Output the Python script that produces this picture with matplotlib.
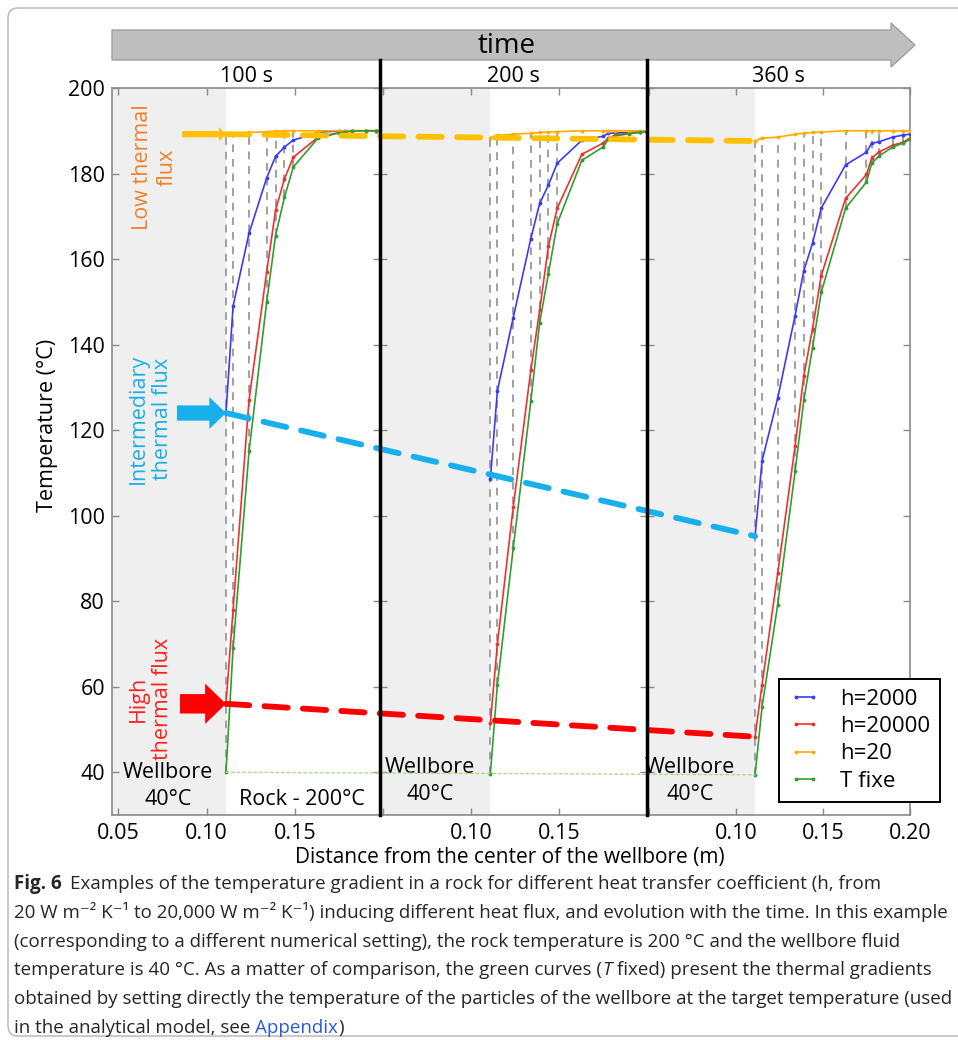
import matplotlib
matplotlib.use("Agg")
import matplotlib.pyplot as plt
from matplotlib import font_manager
from matplotlib.patches import ConnectionPatch, FancyArrow, FancyBboxPatch
from matplotlib.lines import Line2D

# particle positions (m) and temperatures (degC) for each snapshot
x_nodes = [0.111, 0.115, 0.124, 0.134, 0.139, 0.144, 0.149,
           0.163, 0.175, 0.178, 0.182, 0.190, 0.196, 0.200]
times = ["100 s", "200 s", "360 s"]
series_labels = ["h=2000", "h=20000", "h=20", "T fixe"]

t100_h2000 = [124, 149, 166, 179, 184, 186.2, 187.8, 189.6, 190, 190, 190, 190, 190, 190]
t100_h20000 = [56, 78, 127, 157, 171.4, 178.7, 183.8, 188.5, 189.6, 189.8, 190, 190, 190, 190]
t100_h20 = [189.2, 189.4, 189.6, 189.8, 189.9, 190, 190, 190, 190, 190, 190, 190, 190, 190]
t100_fixed = [40, 69, 115, 150, 165.5, 174.4, 181.5, 188.3, 189.5, 189.7, 189.9, 190, 190, 190]

t200_h2000 = [108.5, 129.2, 146.3, 164.8, 173, 177.3, 182.4, 187.8, 188.7, 189.4, 189.5, 189.6, 189.7, 189.8]
t200_h20000 = [51.5, 70, 102, 134, 148, 163, 171.9, 184.5, 187.1, 188.3, 189, 189.5, 189.7, 189.8]
t200_h20 = [188.4, 188.9, 189.2, 189.4, 189.6, 189.7, 189.8, 190, 190, 190, 190, 190, 190, 190]
t200_fixed = [39.6, 60.5, 92.4, 126.8, 145.1, 156.6, 168.3, 183.1, 186.2, 188, 188.8, 189.3, 189.6, 189.8]

t360_h2000 = [95.2, 112.8, 127.5, 146.8, 157.3, 163.7, 171.9, 182, 185, 187.1, 187.4, 188.5, 189, 189.2]
t360_h20000 = [48.3, 60.5, 86.5, 116.3, 132.7, 143.7, 156.1, 174.2, 179.8, 183.6, 185, 186.6, 187.3, 188.3]
t360_h20 = [187.6, 188.3, 188.5, 189.2, 189.4, 189.6, 189.7, 190, 190, 190, 190, 190, 190, 190]
t360_fixed = [39.4, 55.3, 79.2, 110.4, 127, 139.3, 152.2, 171.9, 178, 182.4, 184, 186.2, 187.1, 188]

snapshots = [
    [t100_h2000, t100_h20000, t100_h20, t100_fixed],
    [t200_h2000, t200_h20000, t200_h20, t200_fixed],
    [t360_h2000, t360_h20000, t360_h20, t360_fixed],
]
n_guides = [7, 7, 13]   # particles marked with a vertical guide in each snapshot

wellbore_radius = 0.111
y_ticks = [40, 60, 80, 100, 120, 140, 160, 180, 200]

plt.rcParams["font.family"] = ["Open Sans", "DejaVu Sans"]
line_colors = ["#3b3bf5", "#f03030", "#ffab00", "#2f9e2f"]

W, H = 958, 1040
fig = plt.figure(figsize=(W / 100, H / 100), dpi=100)


def fx(px):
    return px / W


def fy(py):
    return 1 - py / H


# rounded frame around the whole figure
fig.add_artist(FancyBboxPatch((0.08, 0.04), 9.8, 10.28,
                              boxstyle="round,pad=0,rounding_size=0.1",
                              transform=fig.dpi_scale_trans, fc="none",
                              ec="#b4b4b4", lw=1.0))

panel_px = [(112, 380), (380, 647), (647, 910)]
xlims = [(0.0466, 0.198), (0.0483, 0.200), (0.0489, 0.200)]
axes = []
for i, (x0, x1) in enumerate(panel_px):
    ax = fig.add_axes([fx(x0), fy(815), (x1 - x0) / W, (815 - 88) / H])
    ax.set_xlim(*xlims[i])
    ax.set_ylim(30, 200)
    ax.axvspan(xlims[i][0], wellbore_radius, color="#efefef", lw=0, zorder=0)
    for s in ax.spines.values():
        s.set_color("#8a8a8a")
        s.set_linewidth(1.2)
    ax.tick_params(direction="in", length=5, width=1, color="#8a8a8a",
                   top=True, right=True, labelsize=15.5)
    ax.tick_params(axis="x", pad=6)
    ax.tick_params(axis="y", pad=5)
    ax.set_yticks(y_ticks)
    if i > 0:
        ax.set_yticklabels([])
    ax.set_title(times[i], fontsize=15.5, pad=4)
    axes.append(ax)

axes[0].set_xticks([0.05, 0.10, 0.15])
axes[0].set_xticklabels(["0.05", "0.10", "0.15"])
axes[1].set_xticks([0.05, 0.10, 0.15, 0.20])
axes[1].set_xticklabels(["", "0.10", "0.15", ""])
axes[2].set_xticks([0.05, 0.10, 0.15, 0.20])
axes[2].set_xticklabels(["", "0.10", "0.15", "0.20"])

for ax, curves, ng in zip(axes, snapshots, n_guides):
    h20, fixed = curves[2], curves[3]
    for k in range(ng):
        ax.plot([x_nodes[k], x_nodes[k]], [fixed[k], h20[k]], color="#a0a0a0",
                lw=1.4, ls=(0, (4, 3.5)), zorder=1)
    for vals, c, lab in zip(curves, line_colors, series_labels):
        ax.plot(x_nodes, vals, color=c, lw=1.2, marker=".", ms=3.5, label=lab,
                zorder=3)

# wellbore / rock annotations
axes[0].text(0.0783, 40.0, "Wellbore", ha="center", va="center", fontsize=15.5)
axes[0].text(0.0783, 33.7, "40°C", ha="center", va="center", fontsize=15.5)
axes[0].text(0.154, 33.7, "Rock - 200°C", ha="center", va="center", fontsize=15.5)
axes[1].text(0.0767, 41.2, "Wellbore", ha="center", va="center", fontsize=15.5)
axes[1].text(0.0767, 34.7, "40°C", ha="center", va="center", fontsize=15.5)
axes[2].text(0.0736, 41.2, "Wellbore", ha="center", va="center", fontsize=15.5)
axes[2].text(0.0736, 34.7, "40°C", ha="center", va="center", fontsize=15.5)

# heat-flux labels and arrows
flux = [
    ("Low thermal\nflux", "#f0802a", 2, "#ffc000", 0.0862, (5, 10, 4.5), 0.0709, 181.5),
    ("Intermediary\nthermal flux", "#1ab0e8", 0, "#18b0ec", 0.0833, (12, 23, 11), 0.0681, 122.6),
    ("High\nthermal flux", "#ff2020", 1, "#ff0000", 0.085, (15, 29, 14), 0.0681, 57.2),
]
for label, tcol, idx, acol, xtail, (hl, hw, tw), tx, ty in flux:
    t0 = snapshots[0][idx][0]
    axes[0].text(tx, ty, label, color=tcol, rotation=90, ha="center",
                 va="center", multialignment="center", fontsize=15.5)
    axes[0].annotate("", xy=(x_nodes[0], t0), xytext=(xtail, t0),
                     arrowprops=dict(arrowstyle=f"simple,head_length={hl},head_width={hw},tail_width={tw}",
                                     mutation_scale=1, color=acol, lw=0,
                                     shrinkA=0, shrinkB=0),
                     annotation_clip=False, zorder=5)
    t2 = snapshots[2][idx][0]
    fig.add_artist(ConnectionPatch(xyA=(x_nodes[0], t0), coordsA=axes[0].transData,
                                   xyB=(x_nodes[0], t2), coordsB=axes[2].transData,
                                   color=acol, lw=4.2, ls=(0, (4, 2.6)), zorder=4))

# wellbore temperature for the fixed-temperature case
fig.add_artist(ConnectionPatch(xyA=(x_nodes[0], t100_fixed[0]), coordsA=axes[0].transData,
                               xyB=(x_nodes[0], t360_fixed[0]), coordsB=axes[2].transData,
                               color="#b0d890", lw=1.0, ls=(0, (2, 2)), zorder=4))

# heavy separators between snapshots
for px in (380, 647):
    fig.add_artist(Line2D([fx(px), fx(px)], [fy(815), fy(60)], color="k", lw=2.5,
                          transform=fig.transFigure, zorder=6))

# time arrow
fig.add_artist(FancyArrow(fx(112), fy(45), (915 - 112) / W, 0, width=30 / H,
                          head_width=44 / H, head_length=24 / W,
                          length_includes_head=True, transform=fig.transFigure,
                          fc="#bebebe", ec="#a0a0a0", lw=1))
fig.text(fx(507), fy(46), "time", ha="center", va="center", fontsize=20)

leg = axes[2].legend(loc="upper left", bbox_to_anchor=(fx(779), fy(679)),
                     bbox_transform=fig.transFigure, borderaxespad=0,
                     fontsize=16, numpoints=2, fancybox=False, edgecolor="k",
                     framealpha=1, borderpad=0.45, labelspacing=0.28,
                     handlelength=1.4, handletextpad=0.9)
leg.get_frame().set_linewidth(1.4)
leg.set_zorder(7)

fig.text(fx(48), fy(425), "Temperature (°C)", rotation=90, ha="center",
         va="center", fontsize=15.5)
fig.text(fx(510), fy(857), "Distance from the center of the wellbore (m)",
         ha="center", va="center", fontsize=15)

# caption, laid out run by run
names = {f.name for f in font_manager.fontManager.ttflist}
cap_font = "Liberation Sans Narrow" if "Liberation Sans Narrow" in names else "Open Sans"
cap_family = [cap_font, "DejaVu Sans"]
styles = {
    "n": dict(color="#262626"),
    "b": dict(color="#262626", fontweight="bold"),
    "i": dict(color="#262626", fontstyle="italic"),
    "link": dict(color="#2a5bd7"),
}
caption_lines = [
    [("Fig. 6", "b", 1.6), ("Examples of the temperature gradient in a rock for different heat transfer coefficient (h, from", "n", 0)],
    [("20 W m⁻² K⁻¹ to 20,000 W m⁻² K⁻¹) inducing different heat flux, and evolution with the time. In this example", "n", 0)],
    [("(corresponding to a different numerical setting), the rock temperature is 200 °C and the wellbore fluid", "n", 0)],
    [("temperature is 40 °C. As a matter of comparison, the green curves (", "n", 0.15), ("T", "i", 1.0),
     ("fixed) present the thermal gradients", "n", 0)],
    [("obtained by setting directly the temperature of the particles of the wellbore at the target temperature (used", "n", 0)],
    [("in the analytical model, see", "n", 1), ("Appendix", "link", 0), (")", "n", 0)],
]
renderer = fig.canvas.get_renderer()


def text_width(s, size, **kw):
    t = fig.text(0, 0, s, fontsize=size, family=cap_family, **kw)
    w = t.get_window_extent(renderer).width
    t.remove()
    return w


cap_size = 12 * 936 / text_width(caption_lines[1][0][0], 12)
space_w = text_width("a a", cap_size) - text_width("aa", cap_size)
for row, runs in enumerate(caption_lines):
    x = 14
    base = 889 + row * 28.8
    for s, st, gap in runs:
        t = fig.text(fx(x), fy(base), s, fontsize=cap_size, family=cap_family,
                     va="baseline", ha="left", **styles[st])
        x += t.get_window_extent(renderer).width + gap * space_w

fig.savefig("out.png", dpi=100)
